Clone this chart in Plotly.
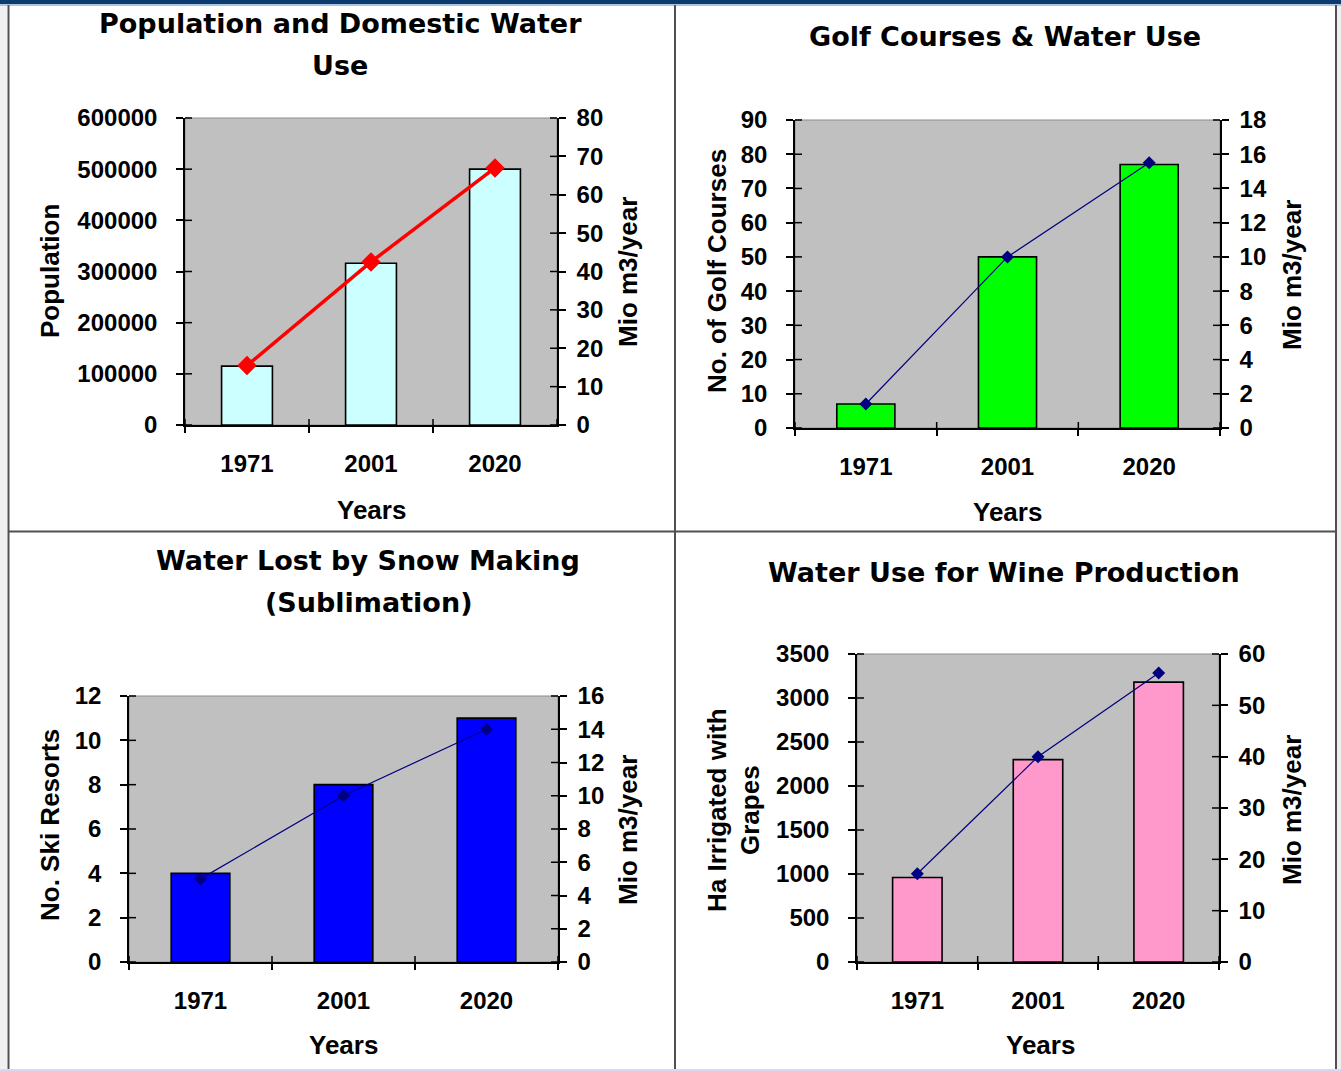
import plotly.graph_objects as go

# ---- data -------------------------------------------------------------
years = ["1971", "2001", "2020"]

population = [115000, 316000, 500000]
domestic_water = [15.5, 42.5, 67]

golf_courses = [7, 50, 77]
golf_water = [1.4, 10, 15.5]

ski_resorts = [4, 8, 11]
snow_water = [5, 10, 14]

ha_grapes = [960, 2300, 3180]
wine_water = [17.2, 40, 56.3]

titles = [
    ["Population and Domestic Water", "Use"],
    ["Golf Courses & Water Use"],
    ["Water Lost by Snow Making", "(Sublimation)"],
    ["Water Use for Wine Production"],
]
left_titles = [["Population"], ["No. of Golf Courses"], ["No. Ski Resorts"],
               ["Ha Irrigated with", "Grapes"]]
right_title = "Mio m3/year"
x_title = "Years"

# ---- geometry (pixels) -------------------------------------------------
W, H = 1341, 1071


def fx(px):
    return px / W


def fy(py):
    return 1 - py / H


TICK_FONT = dict(family="Liberation Sans, Arial, sans-serif", size=24,
                 color="black", weight="bold")
TITLE_FONT = dict(family="DejaVu Sans, Verdana, sans-serif", size=27,
                  color="black", weight="bold")
LABEL_FONT = dict(family="Liberation Sans, Arial, sans-serif", size=26,
                  color="black", weight="bold")

panels = [
    dict(bars=population, line=domestic_water, bar_color="#CCFFFF",
         line_color="#FF0000", line_width=3.5, marker_size=15,
         box=(185, 557, 118, 425), lrange=600000, ldtick=100000,
         rrange=80, rdtick=10,
         title_xy=(340, [23, 65]), ltitle_xy=([50], 271),
         rtitle_xy=(628, 272), xtitle_xy=(371, 510)),
    dict(bars=golf_courses, line=golf_water, bar_color="#00FF00",
         line_color="#000080", line_width=1.2, marker_size=10,
         box=(795, 1220, 120, 428), lrange=90, ldtick=10,
         rrange=18, rdtick=2,
         title_xy=(1005, [37]), ltitle_xy=([717], 271),
         rtitle_xy=(1292, 275), xtitle_xy=(1007, 512)),
    dict(bars=ski_resorts, line=snow_water, bar_color="#0000FF",
         line_color="#000080", line_width=1.2, marker_size=10,
         box=(129, 558, 696, 962), lrange=12, ldtick=2,
         rrange=16, rdtick=2,
         title_xy=(368, [560, 602]), ltitle_xy=([50], 825),
         rtitle_xy=(628, 830), xtitle_xy=(343, 1045)),
    dict(bars=ha_grapes, line=wine_water, bar_color="#FF99CC",
         line_color="#000080", line_width=1.2, marker_size=10,
         box=(857, 1219, 654, 962), lrange=3500, ldtick=500,
         rrange=60, rdtick=10,
         title_xy=(1004, [572]), ltitle_xy=([717, 750], 810),
         rtitle_xy=(1292, 810), xtitle_xy=(1040, 1045)),
]

fig = go.Figure()
layout = {}
annotations = []
shapes = []


def ax_key(letter, n):
    return f"{letter}axis" if n == 1 else f"{letter}axis{n}"


def ax_ref(letter, n):
    return letter if n == 1 else f"{letter}{n}"


for i, p in enumerate(panels):
    x0, x1, y0, y1 = p["box"]
    xn = i + 1
    yl = 2 * i + 1
    yr = 2 * i + 2
    xr, ylr, yrr = ax_ref("x", xn), ax_ref("y", yl), ax_ref("y", yr)

    fig.add_trace(go.Bar(
        x=years, y=p["bars"], xaxis=xr, yaxis=ylr,
        marker=dict(color=p["bar_color"], line=dict(color="black", width=1.6)),
        showlegend=False,
    ))
    fig.add_trace(go.Scatter(
        x=years, y=p["line"], xaxis=xr, yaxis=yrr, mode="lines+markers",
        line=dict(color=p["line_color"], width=p["line_width"]),
        marker=dict(symbol="diamond", size=p["marker_size"],
                    color=p["line_color"]),
        showlegend=False,
    ))

    layout[ax_key("x", xn)] = dict(
        domain=[fx(x0), fx(x1)], anchor=ylr, type="category",
        showline=True, linecolor="black", linewidth=1.5,
        ticks="outside", ticklen=6, tickwidth=1.5, tickcolor="black",
        tickson="boundaries", showgrid=False, tickfont=TICK_FONT,
        ticklabelstandoff=16, fixedrange=True, automargin=False,
    )
    layout[ax_key("y", yl)] = dict(
        domain=[fy(y1), fy(y0)], anchor=xr, range=[0, p["lrange"]],
        dtick=p["ldtick"], tickformat="d",
        showline=True, linecolor="black", linewidth=1.5,
        ticks="outside", ticklen=7, tickwidth=1.5, tickcolor="black",
        showgrid=False, zeroline=False, tickfont=TICK_FONT,
        ticklabelstandoff=14, automargin=False,
    )
    layout[ax_key("y", yr)] = dict(
        domain=[fy(y1), fy(y0)], anchor=xr, overlaying=ylr, side="right",
        range=[0, p["rrange"]], dtick=p["rdtick"], tickformat="d",
        showline=True, linecolor="black", linewidth=1.5,
        ticks="outside", ticklen=7, tickwidth=1.5, tickcolor="black",
        showgrid=False, zeroline=False, tickfont=TICK_FONT,
        ticklabelstandoff=6, automargin=False,
    )

    # grey plot area with a thin grey top edge
    shapes.append(dict(type="rect", xref="paper", yref="paper",
                       x0=fx(x0), x1=fx(x1), y0=fy(y1), y1=fy(y0),
                       fillcolor="#C0C0C0", line=dict(color="#8C8C8C", width=1),
                       layer="below"))

    # inward half of the crossing ticks
    for val in range(0, p["lrange"] + 1, p["ldtick"]):
        yy = fy(y1) + (fy(y0) - fy(y1)) * val / p["lrange"]
        shapes.append(dict(type="line", xref="paper", yref="paper",
                           x0=fx(x0), x1=fx(x0 + 7), y0=yy, y1=yy,
                           line=dict(color="black", width=1.5)))
    nr = int(round(p["rrange"] / p["rdtick"]))
    for k in range(nr + 1):
        yy = fy(y1) + (fy(y0) - fy(y1)) * k / nr
        shapes.append(dict(type="line", xref="paper", yref="paper",
                           x0=fx(x1 - 7), x1=fx(x1), y0=yy, y1=yy,
                           line=dict(color="black", width=1.5)))
    for k in range(len(years) + 1):
        xx = fx(x0) + (fx(x1) - fx(x0)) * k / len(years)
        shapes.append(dict(type="line", xref="paper", yref="paper",
                           x0=xx, x1=xx, y0=fy(y1), y1=fy(y1 - 6),
                           line=dict(color="black", width=1.5)))

    # panel title
    tx, tys = p["title_xy"]
    for line_text, ty in zip(titles[i], tys):
        annotations.append(dict(text=line_text, x=fx(tx), y=fy(ty),
                                xref="paper", yref="paper", showarrow=False,
                                xanchor="center", yanchor="middle",
                                font=TITLE_FONT))
    # left axis title
    lxs, ly = p["ltitle_xy"]
    for line_text, lx in zip(left_titles[i], lxs):
        annotations.append(dict(text=line_text, x=fx(lx), y=fy(ly),
                                xref="paper", yref="paper", showarrow=False,
                                xanchor="center", yanchor="middle",
                                textangle=-90, font=LABEL_FONT))
    rx, ry = p["rtitle_xy"]
    annotations.append(dict(text=right_title, x=fx(rx), y=fy(ry),
                            xref="paper", yref="paper", showarrow=False,
                            xanchor="center", yanchor="middle",
                            textangle=-90, font=LABEL_FONT))
    xx_, xy_ = p["xtitle_xy"]
    annotations.append(dict(text=x_title, x=fx(xx_), y=fy(xy_),
                            xref="paper", yref="paper", showarrow=False,
                            xanchor="center", yanchor="middle",
                            font=LABEL_FONT))

# ---- sheet frame --------------------------------------------------------
frame_color = "#505050"
shapes += [
    dict(type="rect", xref="paper", yref="paper", x0=0, x1=fx(7), y0=0, y1=1,
         fillcolor="#F0F0F0", line=dict(width=0), layer="below"),
    dict(type="rect", xref="paper", yref="paper", x0=fx(1337), x1=1, y0=0, y1=1,
         fillcolor="#F0F0F0", line=dict(width=0), layer="below"),
    dict(type="rect", xref="paper", yref="paper", x0=0, x1=1, y0=fy(4), y1=1,
         fillcolor="#0B3A6E", line=dict(width=0)),
    dict(type="rect", xref="paper", yref="paper", x0=0, x1=1, y0=fy(6), y1=fy(4),
         fillcolor="#A9C4E0", line=dict(width=0)),
    dict(type="rect", xref="paper", yref="paper", x0=0, x1=1, y0=0, y1=fy(1069),
         fillcolor="#D8D8F0", line=dict(width=0)),
    dict(type="line", xref="paper", yref="paper", x0=fx(8.5), x1=fx(8.5),
         y0=fy(1069), y1=fy(5), line=dict(color=frame_color, width=2)),
    dict(type="line", xref="paper", yref="paper", x0=fx(675), x1=fx(675),
         y0=fy(1069), y1=fy(5), line=dict(color=frame_color, width=2)),
    dict(type="line", xref="paper", yref="paper", x0=fx(1336), x1=fx(1336),
         y0=fy(1069), y1=fy(5), line=dict(color=frame_color, width=2)),
    dict(type="line", xref="paper", yref="paper", x0=fx(8), x1=fx(1336),
         y0=fy(531.5), y1=fy(531.5), line=dict(color=frame_color, width=2)),
]

fig.update_layout(
    width=W, height=H, autosize=False, margin=dict(l=0, r=0, t=0, b=0, pad=0),
    paper_bgcolor="white", plot_bgcolor="rgba(0,0,0,0)",
    bargap=0.59, showlegend=False,
    annotations=annotations, shapes=shapes,
    **layout,
)

fig.write_html("out.html", config={"displayModeBar": False})
